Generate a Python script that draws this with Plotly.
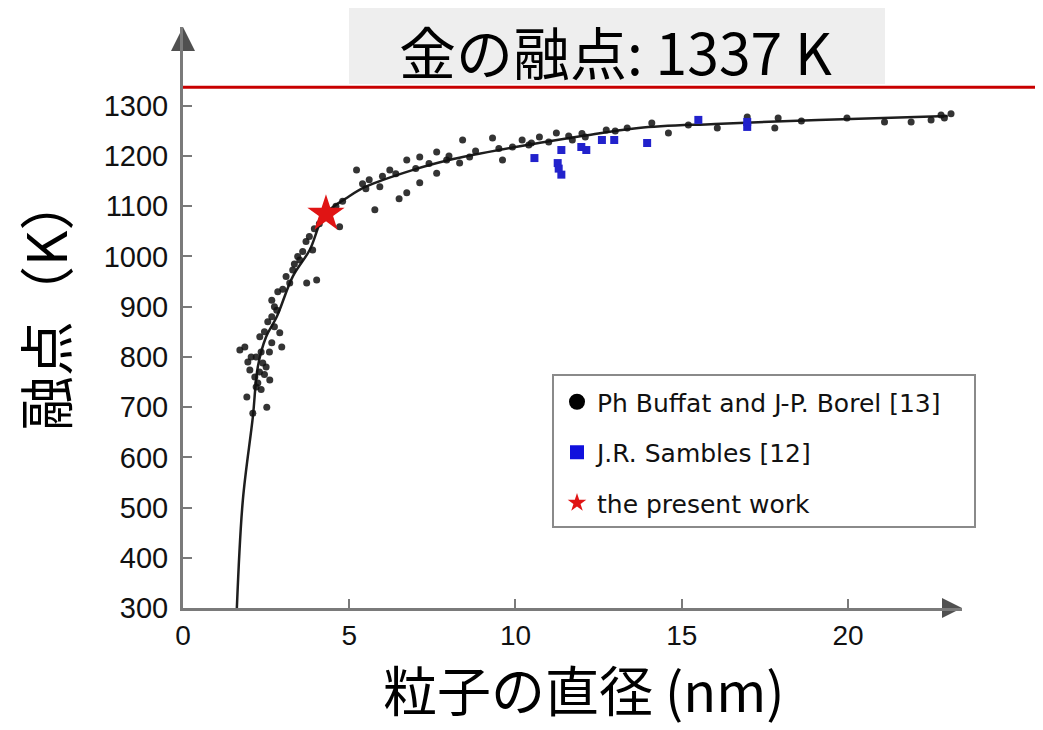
import plotly.graph_objects as go

# ---- data ----
fit_d = [1.62, 1.80, 2.10, 2.25, 2.50, 2.82, 3.30, 3.81, 4.26, 5.00, 5.50, 6.90, 8.00, 8.70,
         10.0, 10.7, 12.0, 13.7, 16.0, 19.1, 23.0]
fit_T = [300, 515, 680, 780, 840, 880, 960, 1013, 1083, 1120, 1139, 1172, 1192, 1202,
         1218, 1226, 1240, 1256, 1264, 1272, 1280]

buffat_d = [1.71, 1.86, 2.01, 2.16, 2.25, 1.92, 2.10, 2.52, 2.61, 2.40, 2.31, 2.67, 2.97, 2.91,
            2.67, 2.67, 2.82, 3.21, 3.30, 3.51, 3.72, 4.02, 3.90,
            2.20, 2.35, 2.45, 2.55, 2.75, 2.85, 3.00, 3.10, 3.35, 3.45, 3.60, 3.70, 3.80, 3.95,
            4.10, 4.20, 4.45, 4.60, 4.80,
            2.30, 2.45, 2.35, 2.20, 2.50, 2.05, 1.95, 2.60, 2.75,
            4.71, 5.22, 5.77, 5.60, 5.92, 6.22, 6.73, 6.73, 7.12, 7.12, 7.63, 7.63, 7.93, 8.41,
            8.32, 8.62, 9.31, 9.61, 9.91, 10.2, 10.72, 11.23, 11.71, 6.50,
            5.40, 5.50, 6.00, 6.40, 7.00, 7.40, 8.00, 8.80, 9.50, 10.4, 11.0, 11.6, 12.0,
            12.73, 13.36, 14.1, 14.6, 16.07, 16.97, 17.8, 17.9, 19.97, 21.1, 21.9, 22.5, 22.8,
            22.9, 10.48, 12.1, 13.0, 15.2, 18.6, 23.1]
buffat_T = [814, 820, 774, 760, 748, 720, 688, 700, 754, 788, 840, 828, 820, 848,
            880, 913, 893, 947, 973, 993, 947, 953, 1013,
            800, 810, 850, 870, 900, 930, 935, 960, 985, 1000, 1010, 1030, 1040, 1055,
            1065, 1075, 1090, 1100, 1110,
            770, 765, 735, 740, 780, 800, 790, 810, 860,
            1059, 1172, 1093, 1153, 1139, 1172, 1192, 1127, 1198, 1147, 1208, 1166, 1192, 1232,
            1186, 1198, 1236, 1192, 1218, 1232, 1238, 1246, 1232, 1115,
            1145, 1135, 1160, 1165, 1175, 1185, 1200, 1210, 1215, 1222, 1228, 1240, 1245,
            1252, 1256, 1266, 1246, 1256, 1278, 1256, 1276, 1276, 1268, 1268, 1272, 1282,
            1276, 1226, 1238, 1250, 1262, 1270, 1284]

sambles_d = [10.57, 11.38, 11.27, 11.38, 11.30, 11.98, 12.13, 12.60, 12.97, 13.96, 15.5, 16.97, 16.97]
sambles_T = [1196, 1212, 1186, 1163, 1175, 1218, 1212, 1232, 1232, 1226, 1272, 1258, 1268]

star_d = [4.30]
star_T = [1085]

gold_bulk_T = 1337

x_ticks = [0, 5, 10, 15, 20]
y_ticks = [300, 400, 500, 600, 700, 800, 900, 1000, 1100, 1200, 1300]

legend_names = ["Ph Buffat and J-P. Borel [13]", "J.R. Sambles [12]", "the present work"]
title_text = "金の融点: 1337 K"
x_title = "粒子の直径 (nm)"
y_title = "融点（K）"

# ---- layout geometry (figure pixels; page shows the figure offset by 8 px) ----
OFF = 8
W, H = 1043 - OFF, 730 - OFF
ML, MR, MT, MB = 175, 81, 19, 122
X_MAX = 23.43
Y_MIN, Y_MAX = 300, 1457
AX_COL = "#7a7a7a"
pw = W - ML - MR
ph = H - MT - MB


def px(sx):
    return (sx - OFF - ML) / pw


def py(sy):
    return (H - MB - (sy - OFF)) / ph


fig = go.Figure()

fig.add_trace(go.Scatter(x=fit_d, y=fit_T, mode="lines", line=dict(color="#1e1e1e", width=2.5),
                         line_shape="spline", showlegend=False, hoverinfo="skip"))
fig.add_trace(go.Scatter(x=buffat_d, y=buffat_T, mode="markers", legendgroup="a", showlegend=False,
                         marker=dict(color="#111111", size=7, opacity=0.85, line=dict(width=0))))
fig.add_trace(go.Scatter(x=sambles_d, y=sambles_T, mode="markers", legendgroup="b", showlegend=False,
                         marker=dict(color="#2222cc", size=8, symbol="square", line=dict(width=0))))
fig.add_trace(go.Scatter(x=star_d, y=star_T, mode="markers", legendgroup="c", showlegend=False,
                         marker=dict(color="#e01414", size=28, symbol="star", line=dict(width=0))))

# legend entries (same series, larger legend symbols)
fig.add_trace(go.Scatter(x=[None], y=[None], mode="markers", name=legend_names[0], legendgroup="a",
                         marker=dict(color="#000000", size=16, symbol="circle")))
fig.add_trace(go.Scatter(x=[None], y=[None], mode="markers", name=legend_names[1], legendgroup="b",
                         marker=dict(color="#1010dd", size=14, symbol="square")))
fig.add_trace(go.Scatter(x=[None], y=[None], mode="markers", name=legend_names[2], legendgroup="c",
                         marker=dict(color="#e01414", size=14, symbol="star")))

# axis arrowheads at the ends of both axes
fig.add_trace(go.Scatter(x=[X_MAX], y=[Y_MIN], mode="markers", showlegend=False, hoverinfo="skip",
                         cliponaxis=False, marker=dict(symbol="arrow-right", size=20, color="#505050")))
fig.add_trace(go.Scatter(x=[0], y=[Y_MAX], mode="markers", showlegend=False, hoverinfo="skip",
                         cliponaxis=False, marker=dict(symbol="arrow-up", size=24, color="#505050")))

# red bulk-melting-point line, from the y axis to the right edge of the picture
fig.add_shape(type="line", xref="paper", yref="y", x0=0, x1=(W - ML) / pw, y0=gold_bulk_T, y1=gold_bulk_T,
              line=dict(color="#c80000", width=3), layer="above")

# title box
fig.add_shape(type="rect", xref="paper", yref="paper", x0=px(349), x1=px(885), y0=py(84), y1=py(OFF),
              fillcolor="#eeeeee", line=dict(width=0), layer="above")
fig.add_annotation(xref="paper", yref="paper", x=px(615), y=py(50),
                   text=title_text, showarrow=False, xanchor="center", yanchor="middle",
                   font=dict(family="Noto Sans CJK JP", size=57, color="#000000"))

# legend frame
fig.add_shape(type="rect", xref="paper", yref="paper", x0=px(553), x1=px(975), y0=py(527), y1=py(375),
              fillcolor="white", line=dict(color="#8a8a8a", width=2), layer="above")

# axis titles
fig.add_annotation(xref="paper", yref="paper", x=px(584), y=-MB / ph,
                   text=x_title, showarrow=False, xanchor="center", yanchor="bottom",
                   font=dict(family="Noto Sans CJK JP", size=54, color="#000000"))
fig.add_annotation(xref="paper", yref="paper", x=px(43), y=py(303),
                   text=y_title, showarrow=False, xanchor="center", yanchor="middle", textangle=-90,
                   font=dict(family="Noto Sans CJK JP", size=55, color="#000000"))

fig.update_layout(
    width=W, height=H,
    margin=dict(l=ML, r=MR, t=MT, b=MB, pad=0),
    paper_bgcolor="white", plot_bgcolor="white",
    xaxis=dict(range=[0, X_MAX], tickvals=x_ticks, ticktext=[str(v) for v in x_ticks],
               showgrid=False, zeroline=False, showline=True, linecolor=AX_COL, linewidth=3,
               ticks="inside", ticklen=9, tickwidth=2, tickcolor=AX_COL,
               tickfont=dict(family="Liberation Sans", size=28, color="#111111")),
    yaxis=dict(range=[Y_MIN, Y_MAX], tickvals=y_ticks, ticktext=[str(v) for v in y_ticks],
               showgrid=False, zeroline=False, showline=True, linecolor=AX_COL, linewidth=3,
               ticks="inside", ticklen=9, tickwidth=2, tickcolor=AX_COL, ticklabelstandoff=6,
               tickfont=dict(family="Liberation Sans", size=29, color="#111111")),
    legend=dict(x=px(557), y=py(379), xanchor="left", yanchor="top",
                bgcolor="rgba(0,0,0,0)", borderwidth=0,
                font=dict(family="DejaVu Sans", size=25, color="#111111"),
                tracegroupgap=15, itemwidth=30),
    showlegend=True,
)

fig.write_html("out.html")
